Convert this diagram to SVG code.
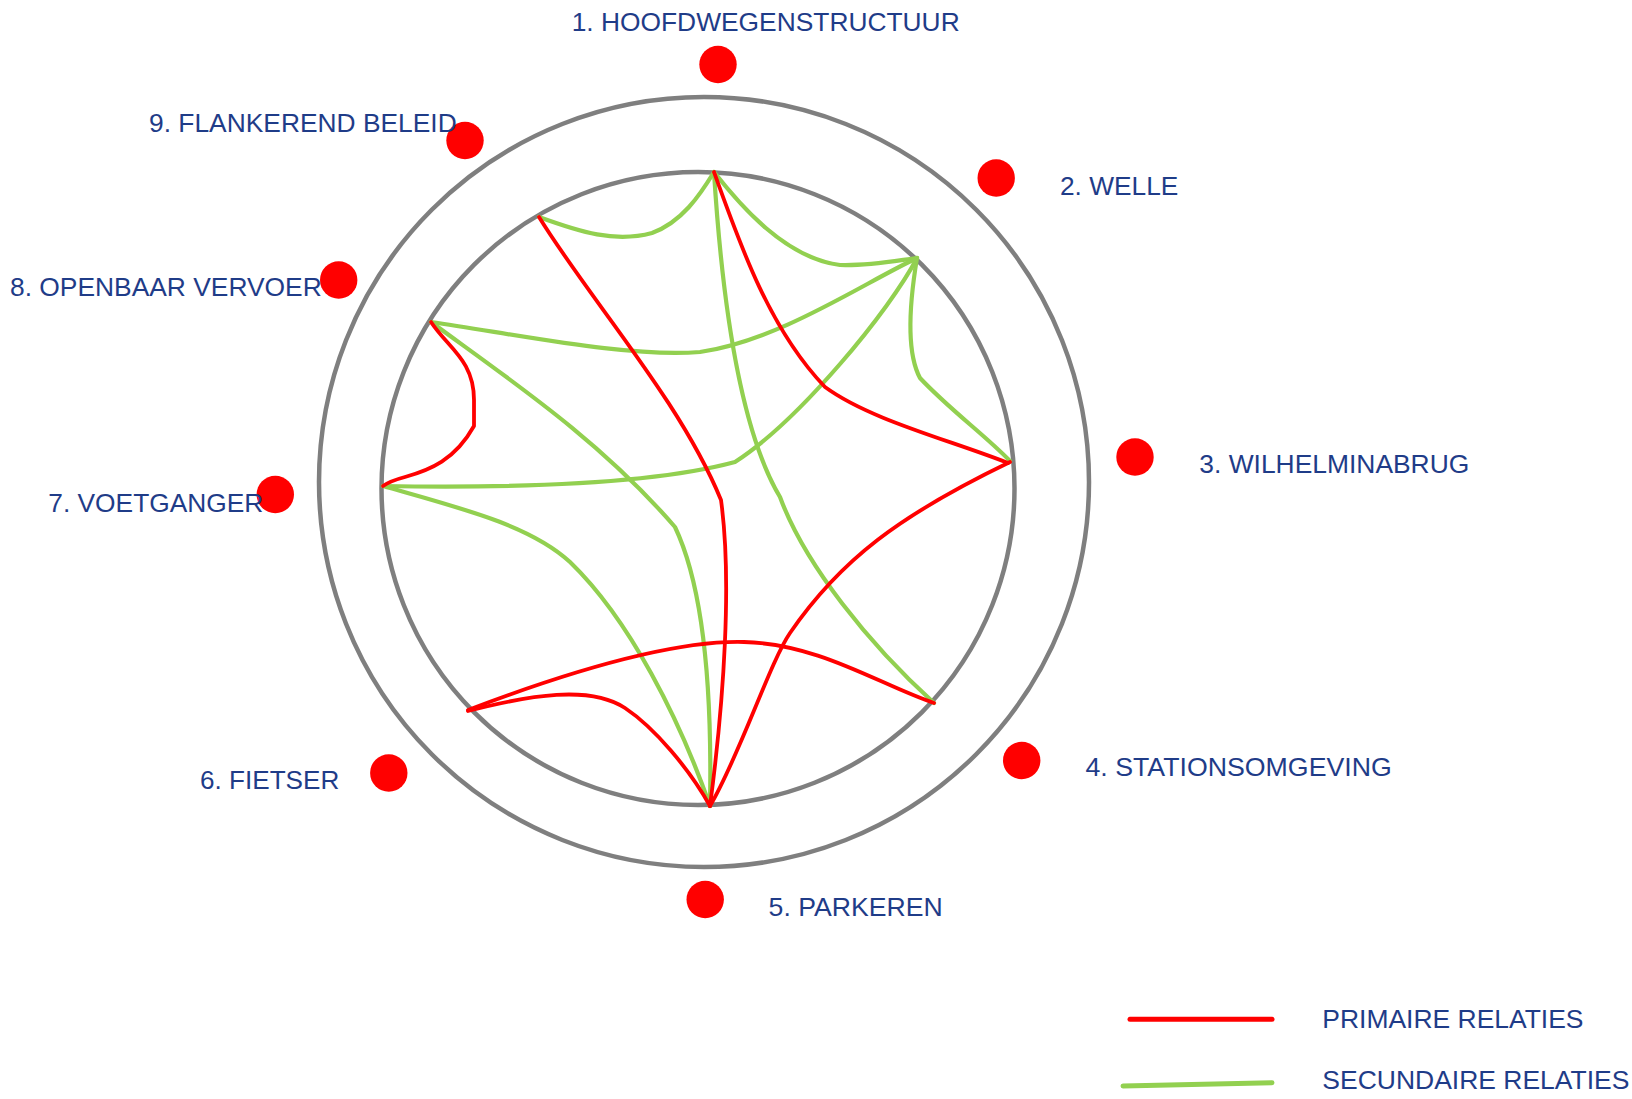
<svg xmlns="http://www.w3.org/2000/svg" width="1632" height="1099" viewBox="0 0 1632 1099">
<style>
.ring{fill:none;stroke:#7f7f7f;stroke-width:4.5}
.dot{fill:#ff0000}
.lbl{font-family:"Liberation Sans",Arial,sans-serif;font-size:26px;fill:#1f3c88}
.pri{fill:none;stroke:#ff0000;stroke-width:3.8;stroke-linejoin:round;stroke-linecap:round}
.sec{fill:none;stroke:#92d050;stroke-width:4.2;stroke-linejoin:round;stroke-linecap:round}
.leg{stroke-width:5;stroke-linecap:round}
</style>
<rect width="1632" height="1099" fill="#ffffff"/>
<g id="rings">
<circle class="ring" cx="704" cy="482" r="385"/>
<circle class="ring" cx="698" cy="488.5" r="316.5"/>
</g>
<g id="connectors">
<path class="sec" d="M539,217 C580,232 615,243 652,233 C682,222 700,195 714,172"/>
<path class="sec" d="M714,172 C740,205 785,258 840,265 C870,266 900,260 917,258"/>
<path class="sec" d="M714,172 C722,300 740,430 780,497 C805,565 870,645 934,703"/>
<path class="sec" d="M917,258 C860,285 780,340 700,352 C630,358 520,335 431,322"/>
<path class="sec" d="M917,258 C910,300 905,350 920,378 C950,410 985,435 1010,461"/>
<path class="sec" d="M917,258 C890,310 800,420 735,462 C650,485 500,488 383,486"/>
<path class="sec" d="M431,322 C510,380 600,440 675,527 C705,590 712,700 710,806"/>
<path class="sec" d="M383,486 C460,508 530,525 570,562 C630,620 680,720 710,806"/>
<path class="pri" d="M714,172 C740,245 770,330 825,387 C870,420 950,440 1008,463"/>
<path class="pri" d="M539,217 C590,300 680,400 721,500 C732,580 724,700 710,806"/>
<path class="pri" d="M431,322 C448,348 474,360 474,400 L474,426 C455,460 430,470 405,477 Q390,481 383,486"/>
<path class="pri" d="M1010,462 C900,515 840,560 790,633 C770,662 740,755 710,806"/>
<path class="pri" d="M468,710 C560,675 670,640 744,642 C820,644 880,685 934,703"/>
<path class="pri" d="M468,711 C530,695 590,685 625,708 C655,728 690,770 710,806"/>
</g>
<g id="node1"><circle class="dot" cx="718" cy="64.5" r="18.7"/><text class="lbl" x="571.7" y="31" textLength="388" lengthAdjust="spacingAndGlyphs">1. HOOFDWEGENSTRUCTUUR</text></g>
<g id="node2"><circle class="dot" cx="996.2" cy="178" r="18.7"/><text class="lbl" x="1060" y="195" textLength="118.3" lengthAdjust="spacingAndGlyphs">2. WELLE</text></g>
<g id="node3"><circle class="dot" cx="1135" cy="457" r="18.7"/><text class="lbl" x="1199.3" y="473.3" textLength="270" lengthAdjust="spacingAndGlyphs">3. WILHELMINABRUG</text></g>
<g id="node4"><circle class="dot" cx="1021.7" cy="760.5" r="18.7"/><text class="lbl" x="1085.5" y="776" textLength="306.3" lengthAdjust="spacingAndGlyphs">4. STATIONSOMGEVING</text></g>
<g id="node5"><circle class="dot" cx="705.2" cy="899.5" r="18.7"/><text class="lbl" x="768.6" y="916" textLength="174" lengthAdjust="spacingAndGlyphs">5. PARKEREN</text></g>
<g id="node6"><circle class="dot" cx="388.8" cy="773" r="18.7"/><text class="lbl" x="200" y="789.3" textLength="139.3" lengthAdjust="spacingAndGlyphs">6. FIETSER</text></g>
<g id="node7"><circle class="dot" cx="275.3" cy="494.5" r="18.7"/><text class="lbl" x="48.3" y="511.7" textLength="215" lengthAdjust="spacingAndGlyphs">7. VOETGANGER</text></g>
<g id="node8"><circle class="dot" cx="338.7" cy="280" r="18.7"/><text class="lbl" x="10" y="295.7" textLength="311.7" lengthAdjust="spacingAndGlyphs">8. OPENBAAR VERVOER</text></g>
<g id="node9"><circle class="dot" cx="465" cy="140.5" r="18.7"/><text class="lbl" x="149" y="132.3" textLength="307.7" lengthAdjust="spacingAndGlyphs">9. FLANKEREND BELEID</text></g>
<g id="legend">
<line class="leg" x1="1130" y1="1019.3" x2="1272" y2="1019.3" stroke="#ff0000"/>
<line class="leg" x1="1123" y1="1086" x2="1272" y2="1082.7" stroke="#92d050"/>
<text class="lbl" x="1322.3" y="1028.3" textLength="261.2" lengthAdjust="spacingAndGlyphs">PRIMAIRE RELATIES</text>
<text class="lbl" x="1322.3" y="1089" textLength="307.1" lengthAdjust="spacingAndGlyphs">SECUNDAIRE RELATIES</text>
</g>
</svg>
